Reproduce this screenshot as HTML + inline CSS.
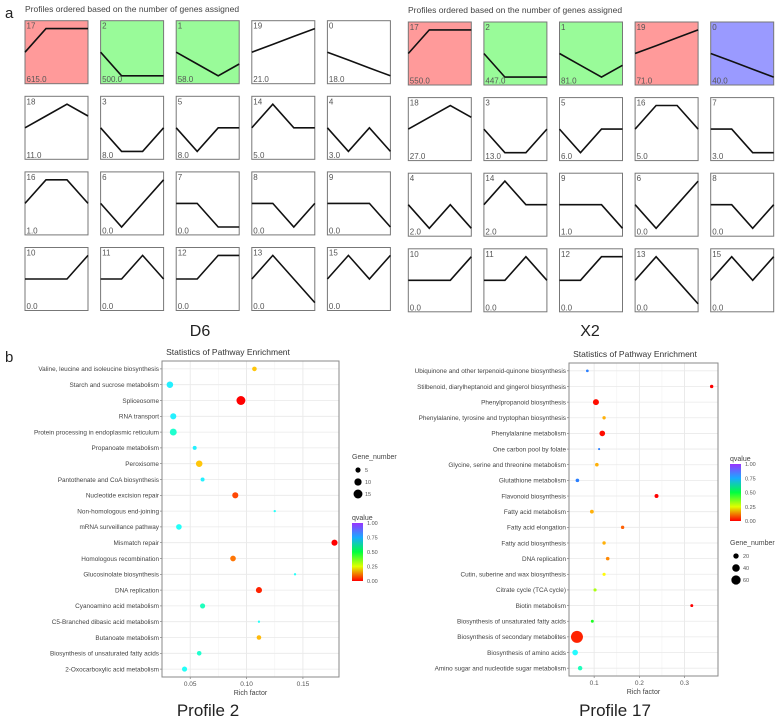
<!DOCTYPE html>
<html><head><meta charset="utf-8"><style>
body{margin:0;background:#fff;}
svg{display:block;font-family:"Liberation Sans",sans-serif;}
</style></head><body>
<svg id="fig" width="780" height="722" viewBox="0 0 780 722">
<defs>
<linearGradient id="qgrad" x1="0" y1="1" x2="0" y2="0">
<stop offset="0" stop-color="hsl(0,100%,50%)"/><stop offset="0.25" stop-color="hsl(67,100%,50%)"/>
<stop offset="0.5" stop-color="hsl(135,100%,50%)"/><stop offset="0.75" stop-color="hsl(202,100%,55%)"/>
<stop offset="1" stop-color="hsl(270,100%,60%)"/></linearGradient>
</defs>
<text x="5" y="18" font-size="15" fill="#222">a</text>
<text x="25" y="12" font-size="8.5" fill="#444">Profiles ordered based on the number of genes assigned</text>
<text x="408" y="13" font-size="8.5" fill="#444">Profiles ordered based on the number of genes assigned</text>
<text x="200" y="336" font-size="16" fill="#222" text-anchor="middle">D6</text>
<text x="590" y="336" font-size="16" fill="#222" text-anchor="middle">X2</text>
<text x="5" y="362" font-size="15" fill="#222">b</text>
<text x="228" y="355" font-size="8.5" fill="#333" text-anchor="middle">Statistics of Pathway Enrichment</text>
<text x="635" y="357" font-size="8.5" fill="#333" text-anchor="middle">Statistics of Pathway Enrichment</text>
<text x="208" y="716" font-size="17" fill="#222" text-anchor="middle">Profile 2</text>
<text x="615" y="716" font-size="17" fill="#222" text-anchor="middle">Profile 17</text>
<g id="prof"></g>
<g id="chartL"></g>
<g id="chartR"></g>
</svg>
<script>
const NS="http://www.w3.org/2000/svg";
function mk(p,t,a){const e=document.createElementNS(NS,t);for(const k in a)e.setAttribute(k,a[k]);p.appendChild(e);return e;}
const shapes={17:[0,1,1,1],2:[0,-1,-1,-1],1:[0,-0.5,-1,-0.5],19:[0,0.33,0.67,1],0:[0,-0.33,-0.67,-1],
18:[0,0.5,1,0.5],3:[0,-1,-1,0],5:[0,-1,0,0],14:[0,1,0,0],4:[0,-1,0,-1],16:[0,1,1,0],6:[0,-1,0,1],
7:[0,0,-1,-1],8:[0,0,-1,0],9:[0,0,0,-1],10:[0,0,0,1],11:[0,0,1,0],12:[0,0,1,1],13:[0,1,0,-1],15:[0,1,0,1]};
const d6Ids=[17,2,1,19,0,18,3,5,14,4,16,6,7,8,9,10,11,12,13,15];
const d6Counts=["615.0","500.0","58.0","21.0","18.0","11.0","8.0","8.0","5.0","3.0","1.0","0.0","0.0","0.0","0.0","0.0","0.0","0.0","0.0","0.0"];
const d6Colors=["r","g","g","","","","","","","","","","","","","","","","",""];
const x2Ids=[17,2,1,19,0,18,3,5,16,7,4,14,9,6,8,10,11,12,13,15];
const x2Counts=["550.0","447.0","81.0","71.0","40.0","27.0","13.0","6.0","5.0","3.0","2.0","2.0","1.0","0.0","0.0","0.0","0.0","0.0","0.0","0.0"];
const x2Colors=["r","g","g","r","b","","","","","","","","","","","","","","",""];
const fills={r:"#ff9a9a",g:"#99fb99",b:"#9a9aff","":"#fff"};
function grid(ox,oy,ids,counts,cols,nm){
  const g=document.getElementById("prof");const sz=63,st=75.6;
  ids.forEach((id,i)=>{
    const x=ox+(i%5)*st,y=oy+Math.floor(i/5)*st;
    const bg=mk(g,"g",{});
    
    
    mk(bg,"rect",{x:x,y:y,width:sz,height:sz,fill:fills[cols[i]],stroke:"#777","stroke-width":1});
    const v=shapes[id];const pts=v.map((val,j)=>(x+j*sz/3).toFixed(1)+","+(y+sz/2-val*0.375*sz).toFixed(1)).join(" ");
    mk(bg,"polyline",{points:pts,fill:"none",stroke:"#111","stroke-width":1.6});
    const t1=mk(bg,"text",{x:x+1.5,y:y+8,"font-size":8,fill:"#555"});t1.textContent=id;
    const t2=mk(bg,"text",{x:x+1.5,y:y+sz-1.5,"font-size":8,fill:"#555"});t2.textContent=counts[i];
  });
}
grid(25,20.7,d6Ids,d6Counts,d6Colors,"d6");
grid(408.3,22,x2Ids,x2Counts,x2Colors,"x2");

const catsL=["Valine, leucine and isoleucine biosynthesis","Starch and sucrose metabolism","Spliceosome","RNA transport","Protein processing in endoplasmic reticulum","Propanoate metabolism","Peroxisome","Pantothenate and CoA biosynthesis","Nucleotide excision repair","Non-homologous end-joining","mRNA surveillance pathway","Mismatch repair","Homologous recombination","Glucosinolate biosynthesis","DNA replication","Cyanoamino acid metabolism","C5-Branched dibasic acid metabolism","Butanoate metabolism","Biosynthesis of unsaturated fatty acids","2-Oxocarboxylic acid metabolism"];
const richL=[0.107,0.032,0.095,0.035,0.035,0.054,0.058,0.061,0.090,0.125,0.040,0.178,0.088,0.143,0.111,0.061,0.111,0.111,0.058,0.045];
const qL=[0.17,0.68,0.0,0.68,0.62,0.68,0.17,0.68,0.06,0.66,0.66,0.0,0.1,0.66,0.03,0.6,0.66,0.16,0.62,0.66];
const nL=[4,8,15,7,9,3,8,3,7,1,6,7,6,1,7,5,1,4,4,5];
const ticksL=[0.05,0.10,0.15];
const tickLabL=["0.05","0.10","0.15"];
const catsR=["Ubiquinone and other terpenoid-quinone biosynthesis","Stilbenoid, diarylheptanoid and gingerol biosynthesis","Phenylpropanoid biosynthesis","Phenylalanine, tyrosine and tryptophan biosynthesis","Phenylalanine metabolism","One carbon pool by folate","Glycine, serine and threonine metabolism","Glutathione metabolism","Flavonoid biosynthesis","Fatty acid metabolism","Fatty acid elongation","Fatty acid biosynthesis","DNA replication","Cutin, suberine and wax biosynthesis","Citrate cycle (TCA cycle)","Biotin metabolism","Biosynthesis of unsaturated fatty acids","Biosynthesis of secondary metabolites","Biosynthesis of amino acids","Amino sugar and nucleotide sugar metabolism"];
const richR=[0.085,0.36,0.104,0.122,0.118,0.111,0.106,0.063,0.238,0.095,0.163,0.122,0.130,0.122,0.102,0.316,0.096,0.062,0.058,0.069];
const qR=[0.8,0.0,0.01,0.15,0.01,0.8,0.15,0.8,0.0,0.15,0.08,0.15,0.12,0.22,0.3,0.0,0.45,0.03,0.67,0.6];
const nR=[5,8,25,8,22,3,9,9,11,10,8,8,9,7,7,6,6,100,22,14];
const ticksR=[0.1,0.2,0.3];
const tickLabR=["0.1","0.2","0.3"];

function qcol(q){return "hsl("+(q*270).toFixed(0)+",100%,"+(50+q*10).toFixed(0)+"%)";}
function chart(id,px0,px1,py0,py1,dmin,dmax,cats,rich,q,n,ticks,labs,rf,nm){
  const g=document.getElementById(id);
  const xs=v=>px0+(v-dmin)/(dmax-dmin)*(px1-px0);
  const rowH=(py1-py0)/cats.length;
  const ys=i=>py0+rowH*(i+0.5);
  mk(g,"rect",{x:px0,y:py0,width:px1-px0,height:py1-py0,fill:"#fff"});
  for(let k=0;k<ticks.length-1;k++){const m=(ticks[k]+ticks[k+1])/2;mk(g,"line",{x1:xs(m),x2:xs(m),y1:py0,y2:py1,stroke:"#f3f3f3","stroke-width":0.6});}
  ticks.forEach((t,k)=>{
    mk(g,"line",{x1:xs(t),x2:xs(t),y1:py0,y2:py1,stroke:"#e6e6e6","stroke-width":0.8});
    mk(g,"line",{x1:xs(t),x2:xs(t),y1:py1,y2:py1+2,stroke:"#666","stroke-width":0.6});
    const tt=mk(g,"text",{x:xs(t),y:py1+9,"font-size":6.5,fill:"#555","text-anchor":"middle"});
    
    
    tt.textContent=labs[k];
  });
  cats.forEach((c,i)=>{
    mk(g,"line",{x1:px0,x2:px1,y1:ys(i),y2:ys(i),stroke:"#e9e9e9","stroke-width":0.8});
    mk(g,"line",{x1:px0-2,x2:px0,y1:ys(i),y2:ys(i),stroke:"#666","stroke-width":0.6});
    const t=mk(g,"text",{x:px0-3,y:ys(i)+2.3,"font-size":6.4,fill:"#444","text-anchor":"end"});
    
    
    t.textContent=c;
  });
  mk(g,"rect",{x:px0,y:py0,width:px1-px0,height:py1-py0,fill:"none",stroke:"#8a8a8a","stroke-width":1});
  cats.forEach((c,i)=>{
    const p=mk(g,"circle",{cx:xs(rich[i]),cy:ys(i),r:rf(n[i]),fill:qcol(q[i])});
    
    
  });
  const xt=mk(g,"text",{x:(px0+px1)/2,y:py1+18,"font-size":7,fill:"#444","text-anchor":"middle"});
  
  
  xt.textContent="Rich factor";
}
const rfL=v=>1.15*Math.sqrt(v);
const rfR=v=>0.6*Math.sqrt(v);
chart("chartL",162,339,361,677,0.025,0.182,catsL,richL,qL,nL,ticksL,tickLabL,rfL,"left-chart");
chart("chartR",569,718,363,676,0.0444,0.374,catsR,richR,qR,nR,ticksR,tickLabR,rfR,"right-chart");

function sizeLegend(x,y,title,vals,rf,nm){
  const g=document.getElementById("fig");
  const t=mk(g,"text",{x:x,y:y,"font-size":7,fill:"#444"});
  
  
  t.textContent=title;
  vals.forEach((v,i)=>{
    const cy=y+11+i*12;
    mk(g,"circle",{cx:x+6,cy:cy,r:rf(v),fill:"#000"});
    const l=mk(g,"text",{x:x+13,y:cy+2.2,"font-size":5.5,fill:"#555"});
    
    
    l.textContent=v;
  });
}
function colorLegend(x,y,h,nm){
  const g=document.getElementById("fig");
  const t=mk(g,"text",{x:x,y:y,"font-size":7,fill:"#444"});
  
  
  t.textContent="qvalue";
  mk(g,"rect",{x:x,y:y+3,width:11,height:h,fill:"url(#qgrad)"});
  ["0.00","0.25","0.50","0.75","1.00"].forEach((s,i)=>{
    const l=mk(g,"text",{x:x+15,y:y+3+h-i*h/4+2,"font-size":5.5,fill:"#555"});
    
    
    l.textContent=s;
  });
}
sizeLegend(352,459,"Gene_number",[5,10,15],rfL,"left");
colorLegend(352,520,58,"left");
colorLegend(730,461,57,"right");
sizeLegend(730,545,"Gene_number",[20,40,60],rfR,"right");
</script>
</body></html>
